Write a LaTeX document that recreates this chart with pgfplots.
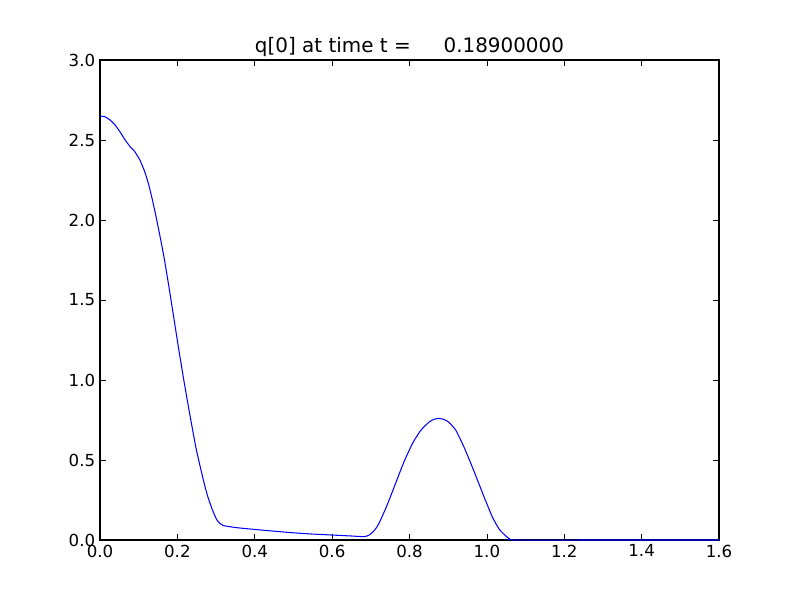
\documentclass[border=0pt]{standalone}
\usepackage{fontspec}
\setmainfont{DejaVu Sans}
\usepackage{pgfplots}
\pgfplotsset{compat=1.18}
\begin{document}
\begin{tikzpicture}
\begin{axis}[
  scale only axis,
  width=6.19in, height=4.8in,
  xmin=0, xmax=1.6, ymin=0, ymax=3,
  xtick={0,0.2,...,1.6}, ytick={0,0.5,...,3},
  tick align=inside,
  major tick length=4pt,
  tick style={black, line width=0.5pt},
  axis line style={black, line width=0.8pt},
  /pgf/number format/assume math mode=true,
  xticklabel style={/pgf/number format/.cd,fixed,fixed zerofill,precision=1},
  yticklabel style={/pgf/number format/.cd,fixed,fixed zerofill,precision=1},
  ticklabel style={font=\fontsize{12}{14}\selectfont},
  scaled ticks=false,
  title={q[0] at time t =\hspace{1.65em}0.18900000},
  title style={font=\fontsize{14.4}{16}\selectfont, yshift=-7pt},
  clip=false,
]
\addplot[blue, line width=0.75pt, smooth, tension=0.3] coordinates {
(0,2.65) (0.013,2.645) (0.026,2.625) (0.039,2.594) (0.052,2.55) (0.065,2.50)
(0.078,2.458) (0.090,2.427) (0.103,2.375) (0.116,2.30) (0.126,2.22) (0.136,2.12)
(0.145,2.02) (0.155,1.90) (0.166,1.76) (0.179,1.57) (0.192,1.37) (0.205,1.17) (0.218,0.98)
(0.231,0.80) (0.248,0.577) (0.263,0.417) (0.276,0.292) (0.289,0.198) (0.302,0.125)
(0.312,0.10) (0.319,0.09) (0.35,0.078) (0.40,0.066) (0.465,0.052) (0.5,0.045)
(0.55,0.037) (0.6,0.031) (0.65,0.025) (0.683,0.021) (0.695,0.03) (0.704,0.046)
(0.713,0.072) (0.722,0.108) (0.743,0.223) (0.765,0.36) (0.786,0.49) (0.808,0.605)
(0.829,0.685) (0.851,0.738) (0.864,0.755) (0.877,0.76) (0.890,0.753) (0.903,0.733)
(0.920,0.685) (0.941,0.58)
(0.963,0.452) (0.980,0.348) (0.997,0.244) (1.015,0.139) (1.032,0.067) (1.049,0.025)
(1.058,0.008) (1.066,0.0) (1.3,0.0) (1.6,0.0)
};
\coordinate (ll) at (rel axis cs:0,0);
\coordinate (ur) at (rel axis cs:1,1);
\end{axis}
\pgfresetboundingbox
\path[use as bounding box] ([shift={(-1in,-0.6in)}]ll) rectangle ([shift={(0.81in,0.6in)}]ur);
\end{tikzpicture}
\end{document}
